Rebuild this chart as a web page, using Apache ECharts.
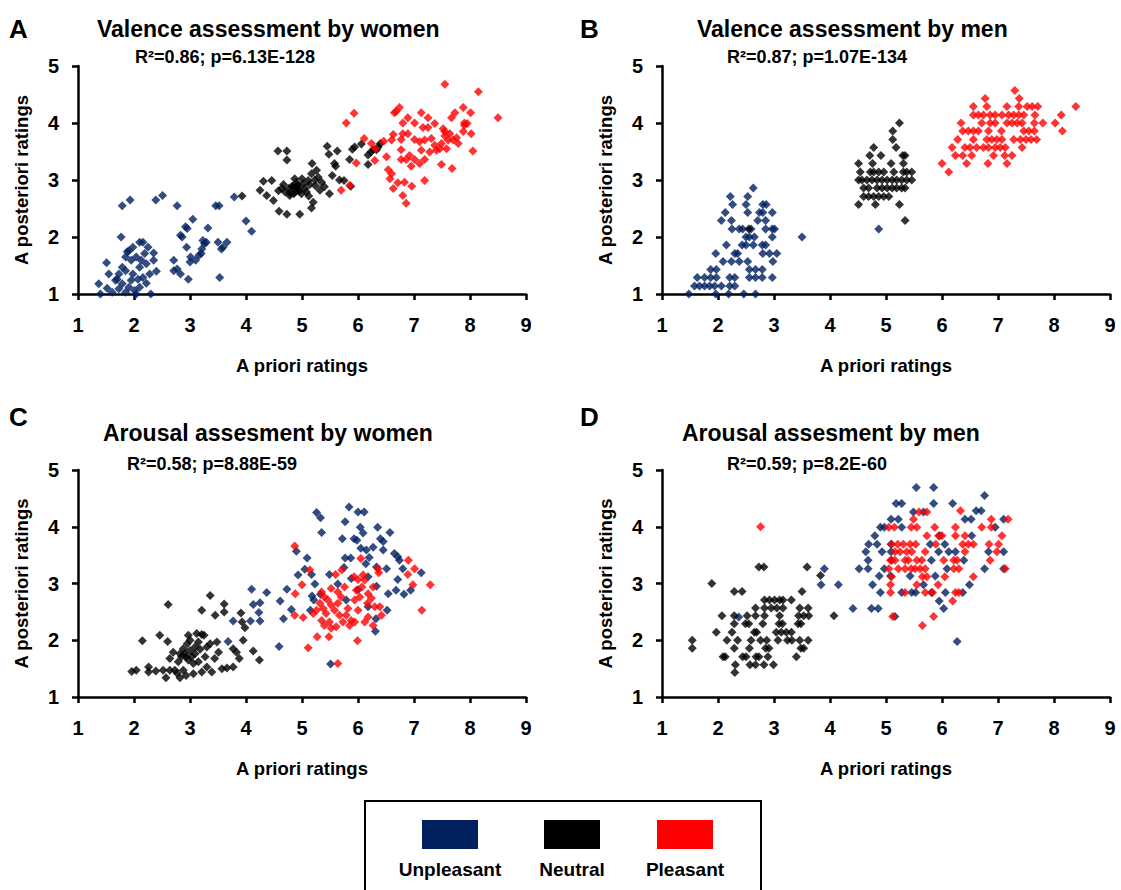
<!DOCTYPE html>
<html>
<head>
<meta charset="utf-8">
<script src="https://cdn.jsdelivr.net/npm/echarts@6/dist/echarts.min.js"></script>
<style>
html, body { margin: 0; padding: 0; background: #fff; }
#container { width: 1121px; height: 890px; }
</style>
</head>
<body>
<div id="container"></div>
<script>
// [a priori rating, a posteriori rating], one array per panel and group

// A - valence, women
const aUnpleasant = [
  [1.79,2.55],[1.93,2.65],[2.39,2.65],[2.51,2.73],[2.77,2.55],[1.77,2.0],[1.51,1.55],[1.37,1.18],[1.40,1.0],
  [1.55,1.35],[1.52,1.1],[1.67,1.24],[1.73,1.35],[1.79,1.47],[1.85,1.65],[1.91,1.76],[1.98,1.82],[2.10,1.91],
  [2.16,1.91],[2.25,1.82],[2.35,1.72],[2.35,1.59],[2.22,1.53],[2.13,1.59],[2.04,1.65],[1.95,1.59],[1.85,1.41],
  [1.98,1.35],[2.10,1.47],[2.28,1.35],[2.40,1.40],[2.22,1.19],[2.10,1.12],[2.01,1.06],[1.91,1.12],[1.79,1.18],
  [1.73,1.09],[1.85,1.03],[2.30,1.0],[1.61,1.03],[2.04,1.0],[1.95,1.24],[2.07,1.26],[2.16,1.29],[1.88,1.74],
  [2.19,1.71],[1.70,1.26],[2.71,1.59],[2.83,2.03],[2.92,2.18],[3.05,2.31],[2.95,2.15],[2.86,2.0],[2.94,1.82],
  [3.01,1.65],[3.0,1.56],[2.77,1.44],[2.71,1.41],[2.83,1.35],[2.97,1.26],[3.16,1.68],[3.21,1.79],[3.26,1.88],
  [3.29,1.91],[3.23,1.94],[3.32,2.16],[3.46,2.55],[3.52,2.55],[3.79,2.70],[3.50,1.91],[3.56,1.79],[3.66,1.91],
  [3.59,1.82],[3.53,1.29],[3.20,1.71],[3.10,1.59],[4.0,2.28],[4.1,2.1]
];
const aNeutral = [
  [4.57,3.51],[4.73,3.51],[4.73,3.35],[4.31,2.98],[4.46,2.99],[4.25,2.82],[4.37,2.73],[4.49,2.64],[4.59,2.45],
  [4.73,2.40],[4.64,2.85],[4.70,2.79],[4.76,2.85],[4.82,2.89],[4.88,2.79],[4.67,2.92],[4.79,2.77],[4.58,2.81],
  [4.90,2.88],[4.95,2.81],[4.85,2.76],[4.93,2.91],[3.93,2.72],[4.87,3.02],[4.84,2.88],[4.93,2.85],[5.02,2.93],
  [5.08,2.79],[4.99,2.76],[5.11,2.99],[5.17,3.11],[5.18,3.29],[5.26,3.17],[5.29,3.05],[5.35,2.96],[5.40,2.88],
  [5.49,2.76],[5.20,2.61],[5.17,2.51],[4.96,2.40],[4.78,2.73],[5.45,3.59],[5.48,3.45],[5.63,3.51],[5.58,3.29],
  [5.60,3.24],[5.54,3.08],[5.67,3.0],[5.75,2.99],[5.87,2.89],[5.85,3.36],[5.90,3.54],[5.94,3.58],[6.06,3.63],
  [6.18,3.44],[6.18,3.27],[6.27,3.53],[6.36,3.58],[6.40,3.64],[6.23,3.49],[6.33,3.53],[5.05,2.85],[5.14,2.92],
  [5.23,3.0],[5.32,2.82],[5.12,2.72],[5.0,3.02],[4.9,2.95],[5.24,2.9]
];
const aPleasant = [
  [7.55,4.68],[8.15,4.55],[8.50,4.09],[5.93,4.17],[5.79,4.0],[6.65,4.18],[6.74,4.27],[6.68,4.20],[6.89,4.09],
  [6.80,4.0],[7.01,4.0],[7.13,4.18],[7.25,4.09],[7.16,3.92],[7.25,3.92],[7.37,3.99],[7.52,3.90],[7.55,3.77],
  [7.67,4.09],[7.73,4.18],[7.88,4.27],[8.01,4.18],[7.90,4.0],[7.95,3.99],[8.02,3.81],[7.88,3.85],[7.76,3.74],
  [7.79,3.64],[7.70,3.70],[7.61,3.70],[7.49,3.64],[7.46,3.55],[7.58,3.55],[7.40,3.52],[7.31,3.73],[7.19,3.70],
  [7.10,3.67],[7.01,3.71],[7.13,3.52],[7.28,3.49],[7.19,3.36],[7.10,3.29],[7.01,3.36],[6.92,3.43],[6.86,3.36],
  [6.95,3.24],[6.77,3.36],[6.77,3.53],[6.77,3.71],[6.80,3.81],[6.89,3.81],[6.63,3.80],[6.60,3.70],[6.51,3.41],
  [6.54,3.18],[6.60,3.11],[6.57,3.02],[6.63,2.85],[6.71,2.95],[6.83,2.96],[6.80,2.73],[6.86,2.59],[6.96,2.89],
  [7.19,2.99],[7.49,3.27],[7.68,3.20],[8.05,3.51],[7.90,3.96],[6.11,3.73],[6.24,3.64],[6.31,3.55],[5.97,3.30],
  [6.30,3.34],[5.70,2.82],[5.85,2.91],[6.46,3.68],[7.37,3.61],[7.55,3.85],[7.64,3.81]
];

// B - valence, men
const bUnpleasant = [
  [1.48,1.0],[1.96,1.0],[2.19,1.0],[2.46,1.0],[2.67,1.0],
  [1.58,1.14],[1.67,1.14],[1.76,1.14],[1.85,1.14],[1.94,1.14],[2.06,1.14],[2.21,1.14],[2.30,1.14],
  [1.63,1.29],[1.76,1.29],[1.87,1.29],[1.97,1.29],[2.21,1.29],[2.30,1.29],[2.56,1.29],[2.67,1.29],[2.79,1.29],[2.97,1.29],
  [1.87,1.43],[1.97,1.43],[2.56,1.43],[2.67,1.43],[2.79,1.43],
  [2.09,1.57],[2.24,1.57],[2.38,1.57],[2.53,1.57],[2.98,1.57],
  [1.96,1.71],[2.30,1.71],[2.35,1.71],[2.80,1.71],[2.92,1.71],[3.05,1.71],
  [2.15,1.86],[2.43,1.86],[2.50,1.86],[2.63,1.86],[2.79,1.86],[2.85,1.86],
  [2.50,2.0],[2.56,2.0],[2.65,2.0],[2.97,2.0],[3.50,2.0],
  [2.25,2.14],[2.38,2.14],[2.44,2.14],[2.59,2.14],[2.85,2.14],[2.97,2.14],[3.01,2.14],[4.87,2.14],
  [2.06,2.29],[2.24,2.29],[2.71,2.29],[2.85,2.29],
  [2.13,2.43],[2.53,2.43],[2.74,2.43],[2.80,2.43],[2.97,2.43],
  [2.26,2.57],[2.50,2.57],[2.80,2.57],[2.86,2.57],
  [2.22,2.71],[2.53,2.71],[2.63,2.86]
];
const bNeutral = [
  [2.55,2.14],[5.24,4.0],[5.12,3.86],[5.12,3.71],[4.78,3.57],[5.18,3.57],
  [4.71,3.43],[4.91,3.43],[5.30,3.43],[5.34,3.43],
  [4.51,3.29],[4.76,3.29],[5.09,3.29],[5.31,3.29],
  [4.54,3.14],[4.72,3.14],[4.78,3.14],[4.87,3.14],[4.96,3.14],[5.14,3.14],[5.31,3.14],[5.37,3.14],[5.46,3.14],
  [4.51,3.0],[4.57,3.0],[4.66,3.0],[4.75,3.0],[4.84,3.0],[4.93,3.0],[5.02,3.0],[5.11,3.0],[5.19,3.0],[5.28,3.0],[5.37,3.0],[5.46,3.0],
  [4.60,2.86],[4.69,2.86],[4.84,2.86],[4.93,2.86],[5.02,2.86],[5.11,2.86],[5.19,2.86],[5.28,2.86],[5.34,2.86],
  [4.60,2.71],[4.69,2.71],[4.78,2.71],[4.87,2.71],[4.96,2.71],[5.05,2.71],
  [4.51,2.57],[4.81,2.57],[5.24,2.57],[5.34,2.29]
];
const bPleasant = [
  [7.30,4.57],[6.77,4.43],[7.38,4.43],
  [6.56,4.29],[6.80,4.29],[7.16,4.29],[7.37,4.29],[7.52,4.29],[7.61,4.29],[7.71,4.29],[8.39,4.29],
  [6.56,4.14],[6.65,4.14],[6.74,4.14],[6.86,4.14],[6.95,4.14],[7.07,4.14],[7.19,4.14],[7.28,4.14],[7.37,4.14],[7.46,4.14],[7.66,4.14],[8.13,4.14],
  [6.34,4.0],[6.71,4.0],[6.86,4.0],[6.95,4.0],[7.16,4.0],[7.25,4.0],[7.34,4.0],[7.43,4.0],[7.65,4.0],[7.80,4.0],[8.02,4.0],
  [6.37,3.86],[6.47,3.86],[6.56,3.86],[6.65,3.86],[6.83,3.86],[7.06,3.86],[7.46,3.86],[7.55,3.86],[7.65,3.86],[8.15,3.86],
  [6.28,3.71],[6.56,3.71],[6.80,3.71],[6.89,3.71],[6.98,3.71],[7.07,3.71],[7.28,3.71],[7.40,3.71],[7.50,3.71],[7.59,3.71],[7.69,3.71],
  [6.18,3.57],[6.41,3.57],[6.50,3.57],[6.62,3.57],[6.74,3.57],[6.83,3.57],[6.95,3.57],[7.04,3.57],[7.13,3.57],[7.43,3.57],
  [6.24,3.43],[6.37,3.43],[6.53,3.43],[6.92,3.43],[7.12,3.43],[7.25,3.43],
  [6.0,3.29],[6.44,3.29],[6.82,3.29],[7.16,3.29],[6.12,3.14]
];

// C - arousal, women
const cUnpleasant = [
  [4.10,2.90],[4.37,2.84],[4.13,2.63],[4.25,2.66],[4.23,2.49],[4.25,2.34],[4.08,2.34],[3.77,2.34],[3.68,1.98],
  [4.59,1.89],[4.61,2.69],[4.73,2.90],[4.67,2.38],
  [5.84,4.35],[6.0,4.26],[6.11,4.26],[5.26,4.25],[5.33,4.16],[5.77,4.09],[5.35,3.90],[6.04,3.99],[6.09,3.89],
  [6.35,3.99],[6.57,3.90],[5.72,3.79],[5.93,3.79],[5.98,3.76],[6.40,3.79],[6.45,3.74],[6.05,3.62],[6.15,3.59],
  [6.27,3.64],[6.45,3.59],[6.65,3.53],[6.71,3.47],[6.74,3.41],[4.90,3.57],[5.09,3.45],[5.77,3.45],[5.87,3.45],
  [6.20,3.46],[6.14,3.35],[5.75,3.28],[6.33,3.29],[6.51,3.26],[6.80,3.26],[7.13,3.19],[6.71,3.07],[5.05,3.25],
  [4.93,3.15],[5.17,3.16],[5.49,3.16],[5.23,2.99],[5.64,2.99],[5.88,3.09],[6.18,3.12],[6.33,2.95],[6.68,2.88],
  [6.54,2.82],[6.82,2.81],[6.94,2.88],[5.18,2.78],[5.21,2.71],[5.33,2.81],[4.81,2.54],[5.15,2.53],[6.52,2.53],
  [6.18,2.59],[6.32,2.38],[6.31,2.16],[5.51,1.58],[5.79,2.71],[6.0,2.89]
];
const cNeutral = [
  [1.96,1.45],[2.04,1.47],[2.15,1.99],[2.26,1.53],[2.26,1.44],[2.39,1.46],[2.46,2.09],[2.52,1.47],[2.57,1.34],
  [2.61,2.63],[2.60,1.98],[2.64,1.68],[2.70,1.79],[2.64,1.47],[2.73,1.47],[2.82,1.34],[2.79,1.62],[2.85,1.71],
  [2.88,1.85],[2.91,1.76],[2.95,1.94],[2.97,2.09],[3.0,1.82],[2.97,1.65],[2.88,1.47],[2.93,1.38],[3.03,1.71],
  [3.06,1.59],[3.09,1.76],[3.12,2.12],[3.15,1.97],[3.21,2.10],[3.25,2.09],[3.18,1.84],[3.21,2.53],[3.27,1.71],
  [3.30,1.88],[3.21,1.44],[3.30,1.53],[3.36,2.79],[3.45,2.44],[3.48,1.97],[3.44,1.68],[3.51,1.79],[3.57,1.50],
  [3.61,2.64],[3.61,2.50],[3.66,1.51],[3.77,1.85],[3.83,1.79],[3.88,1.68],[3.91,2.48],[3.93,2.32],[3.98,2.22],
  [3.95,2.0],[4.13,1.81],[4.24,1.65],[3.77,1.53],[3.39,1.44],[3.06,1.41],[2.77,1.42],[2.93,1.71],[2.82,1.76],
  [3.09,1.88],[3.0,2.0],[3.36,1.94],[3.15,1.62]
];
const cPleasant = [
  [4.87,3.66],[5.14,3.24],[5.0,2.98],[4.88,2.82],[4.87,2.44],[5.02,2.40],[5.11,1.87],[5.27,2.06],[5.48,2.06],
  [5.64,1.59],[5.99,1.99],[6.05,3.44],[5.60,3.16],[5.71,3.24],[6.36,3.26],[6.37,3.19],[6.90,3.41],[7.01,3.26],
  [6.89,3.16],[6.98,2.98],[7.29,2.98],[7.14,2.53],[5.35,2.85],[5.40,2.76],[5.32,2.65],[5.38,2.56],[5.46,2.71],
  [5.52,2.62],[5.43,2.47],[5.35,2.35],[5.49,2.32],[5.58,2.53],[5.64,2.65],[5.70,2.76],[5.67,2.44],[5.73,2.32],
  [5.61,2.24],[5.52,2.21],[5.40,2.26],[5.82,2.56],[5.88,2.35],[5.94,2.32],[5.85,2.26],[6.0,2.53],[6.03,2.76],
  [5.93,3.12],[6.0,3.07],[6.09,3.15],[6.12,3.06],[6.07,2.94],[5.97,2.88],[6.18,2.82],[6.24,2.74],[6.27,2.94],
  [6.17,2.65],[6.18,2.41],[6.12,2.32],[6.39,2.59],[6.42,2.44],[6.27,2.26],[5.76,2.94],[5.64,2.85],[5.52,2.91],
  [5.26,2.53],[5.20,2.47],[6.30,2.59],[5.94,2.71],[5.79,2.44]
];

// D - arousal, men
const dUnpleasant = [
  [3.90,3.26],[3.84,2.98],[4.15,2.98],[4.41,2.56],[2.37,2.41],
  [5.54,4.69],[5.85,4.69],[6.76,4.55],[5.18,4.41],[5.28,4.41],[5.85,4.41],[6.19,4.41],[5.49,4.26],[5.67,4.26],
  [6.61,4.28],[6.70,4.28],[5.09,4.13],[5.22,4.13],[6.41,4.13],[6.52,4.13],[7.10,4.13],[4.90,3.99],[4.97,3.99],
  [5.28,3.99],[6.95,3.99],[4.80,3.84],[5.96,3.84],[6.53,3.84],[4.69,3.69],[4.84,3.69],[5.09,3.69],[5.79,3.69],
  [6.05,3.69],[4.64,3.56],[4.93,3.56],[5.09,3.56],[5.94,3.56],[6.12,3.56],[6.24,3.56],[6.83,3.56],[7.10,3.56],
  [4.68,3.41],[5.10,3.41],[5.81,3.41],[6.39,3.41],[4.52,3.26],[4.68,3.26],[4.97,3.26],[6.09,3.26],[6.76,3.26],
  [7.10,3.26],[4.88,3.13],[5.08,3.13],[5.43,3.13],[5.88,3.13],[4.76,2.98],[5.67,2.98],[6.49,2.98],[4.90,2.84],
  [5.28,2.84],[5.46,2.84],[5.53,2.84],[5.81,2.84],[6.06,2.84],[6.37,2.84],[5.95,2.69],[4.74,2.56],[4.86,2.56],
  [6.03,2.56],[5.16,2.42],[6.27,1.98]
];
const dNeutral = [
  [2.30,1.43],[2.31,1.57],[2.57,1.57],[2.67,1.57],[2.82,1.57],[2.99,1.57],
  [2.09,1.71],[2.13,1.71],[2.44,1.71],[2.50,1.71],[2.68,1.71],[2.73,1.71],[2.89,1.71],[3.40,1.71],
  [1.54,1.86],[2.29,1.86],[2.56,1.86],[2.85,1.86],[2.91,1.86],[3.48,1.86],[3.53,1.86],
  [1.54,2.0],[2.16,2.0],[2.35,2.0],[2.59,2.0],[2.76,2.0],[2.87,2.0],[3.07,2.0],[3.24,2.0],[3.32,2.0],[3.46,2.0],[3.61,2.0],
  [1.97,2.14],[2.25,2.14],[2.65,2.14],[2.69,2.14],[3.04,2.14],[3.13,2.14],[3.22,2.14],[3.31,2.14],
  [2.29,2.29],[2.49,2.29],[2.55,2.29],[2.80,2.29],[3.09,2.29],[3.15,2.29],[3.43,2.29],[3.48,2.29],
  [2.07,2.43],[2.29,2.43],[2.52,2.43],[2.67,2.43],[2.83,2.43],[3.10,2.43],[3.44,2.43],[3.53,2.43],[3.62,2.43],[4.07,2.43],
  [2.67,2.57],[2.83,2.57],[2.95,2.57],[3.05,2.57],[3.16,2.57],[3.46,2.57],[3.61,2.57],
  [2.83,2.71],[2.92,2.71],[3.01,2.71],[3.10,2.71],[3.16,2.71],[3.31,2.71],
  [2.29,2.86],[2.43,2.86],[3.50,2.86],[1.89,3.0],[3.83,3.14],[2.73,3.29],[2.82,3.29],[3.59,3.29]
];
const dPleasant = [
  [2.76,4.0],[5.59,4.26],[5.73,4.26],[6.33,4.28],[5.49,4.13],[6.88,4.13],[7.18,4.13],[5.05,3.99],[5.15,3.99],
  [5.45,3.99],[5.55,3.99],[5.87,3.99],[6.24,3.99],[6.71,3.99],[6.88,3.99],[5.73,3.84],[5.94,3.84],[6.0,3.84],
  [6.24,3.84],[6.41,3.84],[7.07,3.84],[5.10,3.69],[5.21,3.69],[5.31,3.69],[5.43,3.69],[5.53,3.69],[5.89,3.69],
  [6.37,3.69],[6.47,3.69],[6.56,3.69],[6.84,3.69],[7.01,3.69],[5.16,3.56],[5.25,3.56],[5.37,3.56],[5.46,3.56],
  [5.70,3.56],[6.41,3.56],[6.98,3.56],[5.08,3.41],[5.16,3.41],[5.34,3.41],[5.40,3.41],[5.55,3.41],[5.64,3.41],
  [6.03,3.41],[6.21,3.41],[6.27,3.41],[6.86,3.41],[5.05,3.26],[5.22,3.26],[5.34,3.26],[5.45,3.26],[5.52,3.26],
  [5.61,3.26],[5.70,3.26],[6.21,3.26],[6.30,3.26],[7.13,3.26],[5.10,3.12],[5.65,3.12],[5.73,3.12],[6.05,3.12],
  [6.56,3.12],[5.08,2.98],[5.55,2.98],[5.93,2.98],[5.08,2.84],[5.34,2.84],[5.70,2.84],[5.83,2.84],[6.24,2.84],
  [6.30,2.84],[6.19,2.69],[5.12,2.42],[5.85,2.42],[5.65,2.26]
];

const letters = ['A', 'B', 'C', 'D'];
const titles = ['Valence assessment by women', 'Valence assessment by men', 'Arousal assesment by women', 'Arousal assesment by men'];
const stats = ['R²=0.86; p=6.13E-128', 'R²=0.87; p=1.07E-134', 'R²=0.58; p=8.88E-59', 'R²=0.59; p=8.2E-60'];
const groups = ['Unpleasant', 'Neutral', 'Pleasant'];
const colors = ['#002060', '#000000', '#ff0000'];
const panelData = [
  [aUnpleasant, aNeutral, aPleasant],
  [bUnpleasant, bNeutral, bPleasant],
  [cUnpleasant, cNeutral, cPleasant],
  [dUnpleasant, dNeutral, dPleasant]
];

const FONT = '"Liberation Sans", Arial, sans-serif';

// layout of the 4 panels
const grids = [
  {left: 78, top: 66, width: 448, height: 228},
  {left: 662, top: 66, width: 448, height: 228},
  {left: 78, top: 470, width: 448, height: 227},
  {left: 662, top: 470, width: 448, height: 227}
];
const letterPos = [[9, 16], [580, 16], [9, 404], [580, 404]];
const titlePos = [[97, 17], [697, 17], [103, 421], [682, 421]];
const statPos = [[135, 48], [727, 48], [127, 455], [727, 455]];

let chart = echarts.init(document.getElementById('container'), null, {renderer: 'svg'});

let title = [];
letters.forEach((l, i) => {
  title.push({text: l, left: letterPos[i][0], top: letterPos[i][1], padding: 0,
    textStyle: {fontSize: 26, fontWeight: 'bold', color: '#000', fontFamily: FONT}});
  title.push({text: titles[i], left: titlePos[i][0], top: titlePos[i][1], padding: 0,
    textStyle: {fontSize: 23, fontWeight: 'bold', color: '#000', fontFamily: FONT}});
  title.push({text: stats[i], left: statPos[i][0], top: statPos[i][1], padding: 0,
    textStyle: {fontSize: 18, fontWeight: 'bold', color: '#000', fontFamily: FONT}});
});

const axisLine = {show: true, onZero: false, lineStyle: {color: '#000', width: 2.5}};
const axisTick = {show: true, length: 6, lineStyle: {color: '#000', width: 2.5}};
const labelStyle = {fontSize: 20, fontWeight: 'bold', color: '#000', fontFamily: FONT};
const nameStyle = {fontSize: 18.5, fontWeight: 'bold', color: '#000', fontFamily: FONT};

let xAxis = grids.map((g, i) => ({
  gridIndex: i, type: 'value', min: 1, max: 9, interval: 1,
  name: 'A priori ratings', nameLocation: 'middle', nameGap: 62, nameTextStyle: nameStyle,
  axisLine: axisLine, axisTick: axisTick, splitLine: {show: false},
  axisLabel: Object.assign({margin: 21}, labelStyle)
}));
let yAxis = grids.map((g, i) => ({
  gridIndex: i, type: 'value', min: 1, max: 5, interval: 1,
  name: 'A posteriori ratings', nameLocation: 'middle', nameGap: 47, nameTextStyle: nameStyle,
  axisLine: axisLine, axisTick: axisTick, splitLine: {show: false},
  axisLabel: Object.assign({margin: 19}, labelStyle)
}));

let series = [];
panelData.forEach((sets, i) => {
  sets.forEach((d, j) => {
    series.push({
      type: 'scatter', name: groups[j], xAxisIndex: i, yAxisIndex: i,
      symbol: 'diamond', symbolSize: 9,
      itemStyle: {color: colors[j]},
      data: d
    });
  });
});

// legend box drawn by hand: swatch on top, label below
const legendX = [422, 544, 657];
let graphic = [{
  type: 'rect', shape: {x: 365, y: 801, width: 396, height: 120},
  style: {fill: 'none', stroke: '#000', lineWidth: 2}
}];
groups.forEach((g, j) => {
  graphic.push({type: 'rect', shape: {x: legendX[j], y: 820, width: 56, height: 29}, style: {fill: colors[j]}});
  graphic.push({type: 'text', x: legendX[j] + 28, y: 869,
    style: {text: g, fill: '#000', font: 'bold 19px ' + FONT, textAlign: 'center', textVerticalAlign: 'middle'}});
});

chart.setOption({
  animation: false,
  title: title,
  grid: grids,
  xAxis: xAxis,
  yAxis: yAxis,
  series: series,
  graphic: graphic
});
</script>
</body>
</html>
